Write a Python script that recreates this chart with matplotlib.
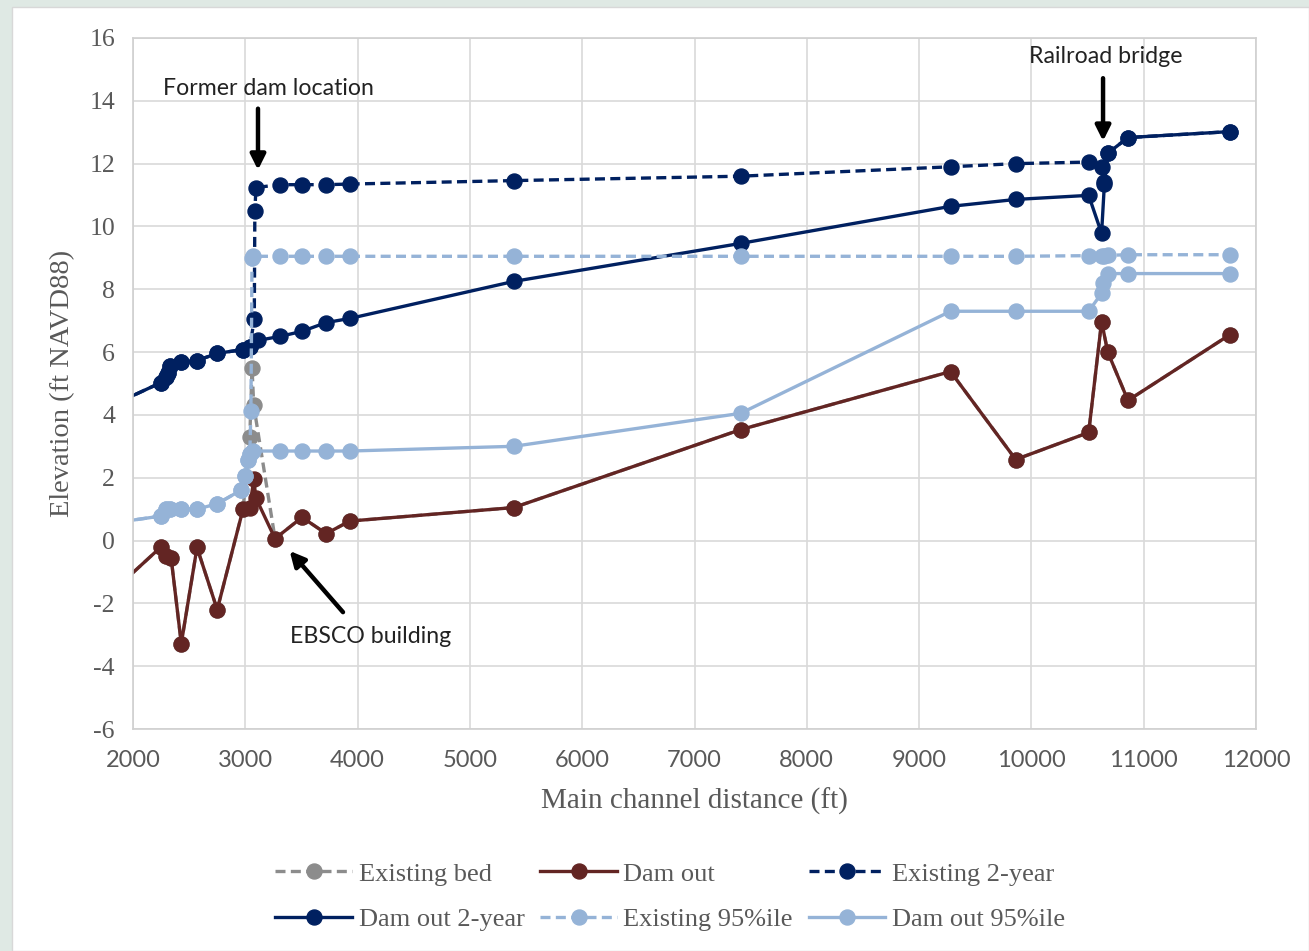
import matplotlib
matplotlib.use("Agg")
import matplotlib.pyplot as plt
from matplotlib.patches import Rectangle

plt.rcParams["axes.unicode_minus"] = False

# ---------------- data ----------------
dam_out_x = [1900, 2250, 2290, 2340, 2430, 2570, 2750, 2980, 3040, 3075, 3095, 3265, 3505, 3720, 3930,
             5390, 7410, 9280, 9860, 10510, 10625, 10680, 10860, 11770]
dam_out_y = [-1.35, -0.2, -0.5, -0.57, -3.28, -0.22, -2.2, 1.0, 1.05, 1.95, 1.35, 0.06, 0.74, 0.22, 0.62,
             1.05, 3.53, 5.38, 2.58, 3.44, 6.97, 6.0, 4.46, 6.56]

bed_x = [1900, 2250, 2290, 2340, 2430, 2570, 2750, 2980, 3040, 3060, 3075, 3265, 3505, 3720, 3930,
         5390, 7410, 9280, 9860, 10510, 10625, 10680, 10860, 11770]
bed_y = [-1.35, -0.2, -0.5, -0.57, -3.28, -0.22, -2.2, 1.0, 3.3, 5.5, 4.3, 0.06, 0.74, 0.22, 0.62,
         1.05, 3.53, 5.38, 2.58, 3.44, 6.97, 6.0, 4.46, 6.56]

dam2_x = [1900, 2250, 2290, 2310, 2330, 2430, 2570, 2750, 2980, 3040, 3110, 3310, 3505, 3720, 3930,
          5390, 7410, 9280, 9860, 10510, 10625, 10650, 10680, 10860, 11770]
dam2_y = [4.45, 5.03, 5.2, 5.35, 5.55, 5.67, 5.73, 5.96, 6.08, 6.15, 6.37, 6.5, 6.66, 6.94, 7.07,
          8.25, 9.46, 10.64, 10.86, 10.99, 9.78, 11.35, 12.33, 12.83, 13.02]

ex2_x = [1900, 2250, 2290, 2310, 2330, 2430, 2570, 2750, 2980, 3040, 3080, 3085, 3095, 3310, 3505, 3720,
         3930, 5390, 7410, 9280, 9860, 10510, 10625, 10650, 10680, 10860, 11770]
ex2_y = [4.45, 5.03, 5.2, 5.35, 5.55, 5.67, 5.73, 5.96, 6.08, 6.15, 7.05, 10.48, 11.24, 11.33, 11.33, 11.33,
         11.35, 11.46, 11.6, 11.9, 12.0, 12.05, 11.88, 11.4, 12.33, 12.83, 13.02]

dam95_x = [1900, 2250, 2290, 2330, 2430, 2570, 2750, 2960, 3000, 3020, 3040, 3070, 3310, 3505, 3720,
           3930, 5390, 7410, 9280, 9860, 10510, 10625, 10640, 10680, 10860, 11770]
dam95_y = [0.6, 0.78, 1.0, 1.02, 1.02, 1.0, 1.17, 1.6, 2.04, 2.55, 2.75, 2.85, 2.85, 2.85, 2.85,
           2.85, 3.0, 4.05, 7.3, 7.3, 7.3, 7.87, 8.2, 8.5, 8.5, 8.5]

ex95_x = [1900, 2250, 2290, 2330, 2430, 2570, 2750, 2960, 3000, 3020, 3040, 3050, 3060, 3070, 3310, 3505,
          3720, 3930, 5390, 7410, 9280, 9860, 10510, 10625, 10650, 10680, 10860, 11770]
ex95_y = [0.6, 0.78, 1.0, 1.02, 1.02, 1.0, 1.17, 1.6, 2.04, 2.55, 2.75, 4.14, 9.0, 9.05, 9.05, 9.05,
          9.05, 9.05, 9.05, 9.05, 9.05, 9.05, 9.07, 9.07, 9.07, 9.08, 9.1, 9.1]

x_ticks = [2000, 3000, 4000, 5000, 6000, 7000, 8000, 9000, 10000, 11000, 12000]
y_ticks = [-6, -4, -2, 0, 2, 4, 6, 8, 10, 12, 14, 16]

# ---------------- style ----------------
NAVY = "#002060"
RED = "#632523"
LIGHT = "#95b3d7"
GRAY = "#8c8c8c"
TXT = "#595959"
SERIF = "Liberation Serif"
SANS = "Lato"

W, H = 1309, 951
fig = plt.figure(figsize=(W / 100, H / 100), dpi=100)
fig.patch.set_facecolor("#dfe9e4")
fig.patches.append(Rectangle((12 / W, 0), 1 - 12 / W, 1 - 7 / H, transform=fig.transFigure,
                             facecolor="white", edgecolor="#d8d8d8", linewidth=1.0, zorder=-10))

ax = fig.add_axes([133 / W, 1 - 729 / H, (1256 - 133) / W, (729 - 38) / H])
ax.set_zorder(5)
ax.set_xlim(2000, 12000)
ax.set_ylim(-6, 16)
ax.set_xticks(x_ticks)
ax.set_yticks(y_ticks)
ax.grid(True, color="#d9d9d9", linewidth=1.2)
ax.set_axisbelow(True)
for s in ax.spines.values():
    s.set_color("#d0d0d0")
    s.set_linewidth(1.2)
ax.tick_params(length=0, colors=TXT)
ax.tick_params(axis="x", pad=15)
ax.tick_params(axis="y", pad=13)
for lab in ax.get_xticklabels():
    lab.set_fontfamily(SANS)
    lab.set_fontsize(17)
for lab in ax.get_yticklabels():
    lab.set_fontfamily(SERIF)
    lab.set_fontsize(18.5)

lw = 2.4
ms = 10.8
dash = (0, (3, 1.6))
kw = dict(marker="o", markersize=ms, linewidth=lw, clip_on=True)

ax.plot(bed_x, bed_y, color=GRAY, linestyle=dash, label="Existing bed", **kw)
ax.plot(dam_out_x, dam_out_y, color=RED, linestyle="-", label="Dam out", **kw)
ax.plot(ex2_x, ex2_y, color=NAVY, linestyle=dash, label="Existing 2-year", **kw)
ax.plot(dam2_x, dam2_y, color=NAVY, linestyle="-", label="Dam out 2-year", **kw)
ax.plot(ex95_x, ex95_y, color=LIGHT, linestyle=dash, label="Existing 95%ile", **kw)
ax.plot(dam95_x, dam95_y, color=LIGHT, linestyle="-", label="Dam out 95%ile", **kw)

ax.set_xlabel("Main channel distance (ft)", fontfamily=SERIF, fontsize=21, color=TXT, labelpad=12)
ax.set_ylabel("Elevation (ft NAVD88)", fontfamily=SERIF, fontsize=20.5, color=TXT, labelpad=10)

arrow = dict(arrowstyle="-|>,head_length=0.9,head_width=0.45", color="black", lw=3.2,
             shrinkA=0, shrinkB=0)
ax.annotate("", xy=(3113, 11.8), xytext=(3113, 13.75), arrowprops=arrow)
ax.text(3210, 14.4, "Former dam location", fontfamily=SANS, fontsize=16.7, ha="center", va="center",
        color="#222222")
ax.annotate("", xy=(10638, 12.72), xytext=(10638, 14.72), arrowprops=arrow)
ax.text(10665, 15.4, "Railroad bridge", fontfamily=SANS, fontsize=16.7, ha="center", va="center",
        color="#222222")
ax.annotate("", xy=(3395, -0.33), xytext=(3870, -2.28), arrowprops=arrow)
ax.text(4120, -3.07, "EBSCO building", fontfamily=SANS, fontsize=16.7, ha="center", va="center",
        color="#222222")

handles, labels = ax.get_legend_handles_labels()
order = [0, 3, 1, 4, 2, 5]
leg = fig.legend([handles[i] for i in order], [labels[i] for i in order], ncol=3, loc="center",
                 bbox_to_anchor=(0.512, 0.057), frameon=False,
                 prop={"family": SERIF, "size": 19}, handlelength=2.9,
                 handletextpad=0.25, columnspacing=0.6, labelspacing=0.85)
for t in leg.get_texts():
    t.set_color(TXT)

fig.savefig("out.png", dpi=100, facecolor=fig.get_facecolor())
